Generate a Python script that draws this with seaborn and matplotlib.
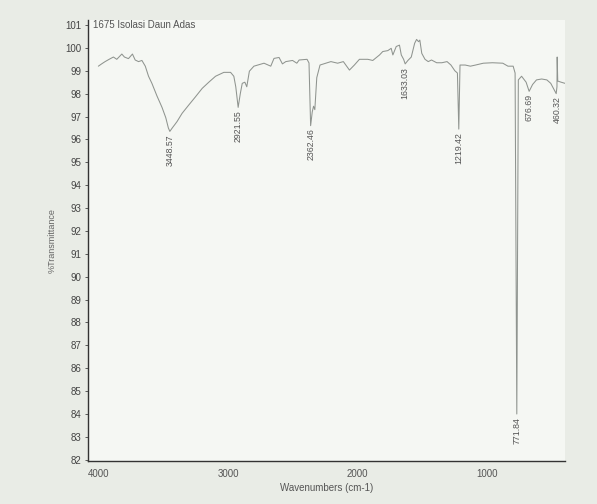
import matplotlib
matplotlib.use("Agg")
import matplotlib.pyplot as plt
import seaborn as sns
import pandas as pd

# FTIR spectrum (wavenumber cm-1, %T)
wavenumber = [4000, 3975, 3948, 3917, 3884, 3858, 3819, 3799, 3768, 3737, 3716, 3690,
              3664, 3638, 3613, 3587, 3548, 3509, 3480, 3460, 3448.57, 3430, 3410, 3393,
              3354, 3303, 3251, 3199, 3148, 3096, 3032, 2980, 2955, 2940, 2921.55, 2905,
              2890, 2870, 2855, 2835, 2800, 2722, 2670, 2645, 2606, 2580, 2554, 2502,
              2469, 2451, 2390, 2375, 2362.46, 2350, 2340, 2330, 2315, 2290, 2206, 2154,
              2110, 2063, 2025, 1986, 1921, 1883, 1831, 1806, 1767, 1741, 1728, 1702,
              1677, 1663, 1645, 1633.03, 1612, 1586, 1560, 1545, 1530, 1520, 1505, 1480,
              1455, 1430, 1390, 1350, 1310, 1280, 1250, 1230, 1219.42, 1210, 1170, 1130,
              1090, 1030, 960, 880, 840, 800, 785, 771.84, 760, 735, 700, 676.69, 650,
              620, 580, 540, 510, 480, 468, 462, 460.32, 456, 430, 400]
transmittance = [99.2, 99.3, 99.4, 99.5, 99.6, 99.5, 99.73, 99.6, 99.53, 99.73, 99.47, 99.4,
                 99.45, 99.2, 98.76, 98.45, 97.9, 97.4, 96.95, 96.5, 96.35, 96.5, 96.65, 96.78,
                 97.14, 97.5, 97.86, 98.23, 98.5, 98.76, 98.93, 98.93, 98.76, 98.3, 97.4, 98.0,
                 98.45, 98.5, 98.3, 98.98, 99.2, 99.33, 99.2, 99.54, 99.58, 99.3, 99.4, 99.45,
                 99.33, 99.47, 99.5, 99.34, 96.6, 97.2, 97.45, 97.3, 98.7, 99.25, 99.4, 99.33,
                 99.4, 99.03, 99.25, 99.5, 99.5, 99.45, 99.69, 99.84, 99.88, 99.98, 99.69, 100.06,
                 100.12, 99.69, 99.5, 99.3, 99.45, 99.6, 100.2, 100.37, 100.27, 100.34, 99.76, 99.5,
                 99.4, 99.47, 99.35, 99.35, 99.4, 99.25, 99.0, 98.9, 96.45, 99.25, 99.25, 99.2,
                 99.25, 99.33, 99.35, 99.33, 99.2, 99.2, 98.9, 84.0, 98.6, 98.76, 98.5, 98.1, 98.4,
                 98.6, 98.64, 98.6, 98.45, 98.13, 98.0, 98.3, 99.6, 98.55, 98.5, 98.45]

peak_wn = [3448.57, 2921.55, 2362.46, 1633.03, 1219.42, 771.84, 676.69, 460.32]
peak_t = [96.35, 97.4, 96.6, 99.3, 96.45, 84.0, 98.1, 98.0]
peak_labels = ["3448.57", "2921.55", "2362.46", "1633.03", "1219.42", "771.84", "676.69", "460.32"]

yticks = list(range(82, 102))
xticks = [4000, 3000, 2000, 1000]

df = pd.DataFrame({"wn": wavenumber, "T": transmittance})

sns.set_style("ticks")
plt.rcParams["font.family"] = ["Liberation Sans", "DejaVu Sans"]

fig = plt.figure(figsize=(5.97, 5.04), dpi=100, facecolor="#e9ece6")
ax = fig.add_axes([0.1474, 0.0855, 0.799, 0.874])
ax.set_facecolor("#f5f7f3")

sns.lineplot(data=df, x="wn", y="T", ax=ax, color="#8f948f", linewidth=0.75)

ax.set_xlim(4080, 400)
ax.set_ylim(81.95, 101.2)
ax.set_yticks(yticks)
ax.set_xticks(xticks)
ax.tick_params(axis="y", labelsize=7, colors="#444444", length=2, width=0.6, pad=3)
ax.tick_params(axis="x", labelsize=7, colors="#555555", length=0, pad=6)

for side in ["top", "right"]:
    ax.spines[side].set_visible(False)
for side in ["left", "bottom"]:
    ax.spines[side].set_color("#333333")
    ax.spines[side].set_linewidth(1.0)

ax.set_xlabel("Wavenumbers (cm-1)", fontsize=7, color="#555555", labelpad=3)
ax.set_ylabel("%Transmittance", fontsize=6.5, color="#666666", labelpad=6)

ax.text(4040, 101.0, "1675 Isolasi Daun Adas", fontsize=7, color="#555555",
        ha="left", va="center")

for wn, t, lab in zip(peak_wn, peak_t, peak_labels):
    ax.annotate(lab, xy=(wn, t), xytext=(0, -2), textcoords="offset points",
                rotation=90, ha="center", va="top", fontsize=6.3, color="#555555")

fig.savefig("out.png", dpi=100, facecolor=fig.get_facecolor())
